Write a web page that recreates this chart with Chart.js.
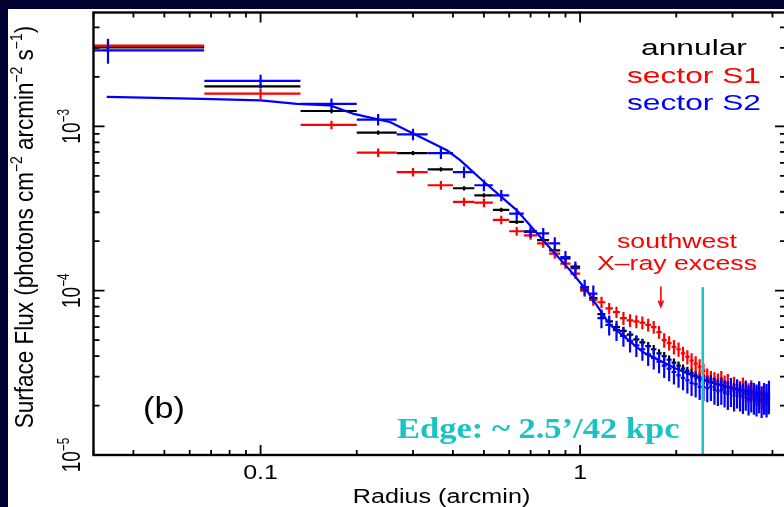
<!DOCTYPE html>
<html>
<head>
<meta charset="utf-8">
<script src="https://cdn.jsdelivr.net/npm/chart.js"></script>
<style>
  html, body { margin: 0; padding: 0; background: #010132; overflow: hidden; }
  #wrap { position: absolute; left: 0; top: 0; width: 800px; height: 507px; }
</style>
</head>
<body>
<div id="wrap"><canvas id="chart-profile" width="800" height="507"></canvas></div>
<script>
// radial bins (arcmin), centre of each 4" annulus
var RADIUS = [0.0333, 0.1, 0.1667, 0.2333, 0.3, 0.3667, 0.4333, 0.5, 0.5667, 0.6333,
  0.7, 0.7667, 0.8333, 0.9, 0.9667, 1.0333, 1.1, 1.1667, 1.2333, 1.3,
  1.3667, 1.4333, 1.5, 1.5667, 1.6333, 1.7, 1.7667, 1.8333, 1.9, 1.9667,
  2.0333, 2.1, 2.1667, 2.2333, 2.3, 2.3667, 2.4333, 2.5, 2.5667, 2.6333,
  2.7, 2.7667, 2.8333, 2.9, 2.9667, 3.0333, 3.1, 3.1667, 3.2333, 3.3,
  3.3667, 3.4333, 3.5, 3.5667, 3.6333, 3.7, 3.7667, 3.8333, 3.9];
var BIN_HALF = 0.0333;

var ANNULAR_FLUX = [3.02e-3, 1.75e-3, 1.24e-3, 9.16e-4, 6.88e-4, 5.48e-4, 4.20e-4, 3.80e-4, 3.10e-4, 2.62e-4,
  2.30e-4, 2.03e-4, 1.76e-4, 1.57e-4, 1.40e-4, 1.02e-4, 9.0e-5, 7.2e-5, 6.5e-5, 6.0e-5,
  5.7e-5, 5.4e-5, 5.05e-5, 4.85e-5, 4.6e-5, 4.4e-5, 4.15e-5, 4.0e-5, 3.8e-5, 3.65e-5,
  3.5e-5, 3.35e-5, 3.25e-5, 3.15e-5, 3.05e-5, 2.98e-5, 2.9e-5, 2.85e-5, 2.8e-5, 2.75e-5,
  2.7e-5, 2.65e-5, 2.6e-5, 2.6e-5, 2.55e-5, 2.5e-5, 2.5e-5, 2.45e-5, 2.4e-5, 2.4e-5,
  2.35e-5, 2.35e-5, 2.3e-5, 2.3e-5, 2.25e-5, 2.25e-5, 2.2e-5, 2.2e-5, 2.2e-5];
var ANNULAR_ERR = [.04, .03, .03, .03, .03, .03, .03, .03, .03, .03,
  .03, .03, .04, .04, .04, .04, .04, .05, .05, .05,
  .05, .05, .05, .05, .06, .06, .06, .06, .06, .06,
  .06, .06, .06, .07, .07, .07, .07, .07, .07, .07,
  .07, .08, .08, .08, .08, .08, .08, .08, .08, .08,
  .09, .09, .09, .09, .09, .09, .09, .09, .09];

var S1_FLUX = [3.10e-3, 1.58e-3, 1.02e-3, 6.92e-4, 5.27e-4, 4.38e-4, 3.47e-4, 3.43e-4, 2.70e-4, 2.30e-4,
  2.17e-4, 1.94e-4, 1.68e-4, 1.46e-4, 1.27e-4, 1.0e-4, 8.8e-5, 8.5e-5, 7.8e-5, 7.4e-5,
  6.8e-5, 6.6e-5, 6.5e-5, 6.4e-5, 6.2e-5, 6.0e-5, 5.6e-5, 5.0e-5, 4.8e-5, 4.55e-5,
  4.4e-5, 4.15e-5, 3.95e-5, 3.75e-5, 3.6e-5, 3.45e-5, 3.25e-5, 3.0e-5, 2.9e-5, 2.85e-5,
  2.8e-5, 2.9e-5, 2.7e-5, 2.75e-5, 2.6e-5, 2.65e-5, 2.55e-5, 2.5e-5, 2.6e-5, 2.45e-5,
  2.4e-5, 2.5e-5, 2.35e-5, 2.3e-5, 2.4e-5, 2.25e-5, 2.2e-5, 2.1e-5, 2.2e-5];
var S1_ERR = [.10, .07, .06, .06, .06, .06, .06, .06, .06, .06,
  .06, .06, .07, .07, .07, .08, .08, .08, .08, .08,
  .09, .09, .09, .09, .09, .09, .09, .10, .10, .10,
  .10, .10, .10, .11, .11, .11, .11, .12, .12, .12,
  .12, .12, .13, .13, .13, .13, .13, .13, .14, .14,
  .14, .14, .14, .14, .15, .15, .15, .16, .16];

var S2_FLUX = [2.90e-3, 1.89e-3, 1.37e-3, 1.10e-3, 8.94e-4, 6.88e-4, 5.27e-4, 4.38e-4, 3.80e-4, 2.94e-4,
  2.28e-4, 2.23e-4, 1.94e-4, 1.6e-4, 1.37e-4, 1.05e-4, 9.6e-5, 6.8e-5, 6.2e-5, 5.75e-5,
  5.3e-5, 4.95e-5, 4.65e-5, 4.4e-5, 4.1e-5, 3.9e-5, 3.7e-5, 3.5e-5, 3.35e-5, 3.2e-5,
  3.05e-5, 2.95e-5, 2.85e-5, 2.75e-5, 2.7e-5, 2.6e-5, 2.6e-5, 2.55e-5, 2.6e-5, 2.5e-5,
  2.45e-5, 2.5e-5, 2.4e-5, 2.35e-5, 2.45e-5, 2.3e-5, 2.4e-5, 2.3e-5, 2.25e-5, 2.35e-5,
  2.2e-5, 2.3e-5, 2.25e-5, 2.2e-5, 2.3e-5, 2.15e-5, 2.25e-5, 2.2e-5, 2.3e-5];
var S2_ERR = [.17, .09, .08, .08, .08, .08, .08, .08, .08, .08,
  .08, .08, .09, .09, .10, .11, .12, .13, .14, .14,
  .14, .15, .15, .15, .15, .15, .15, .16, .16, .16,
  .16, .16, .17, .17, .17, .17, .18, .18, .18, .19,
  .19, .19, .19, .20, .20, .20, .20, .20, .21, .21,
  .21, .21, .22, .22, .22, .22, .22, .23, .23];

// beta-model curve
var MODEL_RADIUS = [0.033, 0.066, 0.1, 0.13, 0.165, 0.196, 0.255, 0.383, 0.422, 0.5, 0.634,
  0.806, 0.93, 1.05, 1.24, 1.58, 2.0, 2.5, 3.0, 3.5, 3.93];
var MODEL_FLUX = [1.51e-3, 1.47e-3, 1.44e-3, 1.37e-3, 1.34e-3, 1.19e-3, 1.06e-3, 7.15e-4, 6.2e-4, 4.6e-4, 3.08e-4,
  1.81e-4, 1.33e-4, 1.0e-4, 6.2e-5, 4.2e-5, 3.35e-5, 2.8e-5, 2.55e-5, 2.4e-5, 2.3e-5];

var X_TICK_VALUES = [0.1, 1];
var X_TICK_LABELS = ['0.1', '1'];
var Y_TICK_VALUES = [1e-5, 1e-4, 1e-3];
var Y_TICK_EXP = ['\u22125', '\u22124', '\u22123'];

var LEGEND_LABELS = ['annular', 'sector S1', 'sector S2'];
var LEGEND_COLORS = ['#000000', '#ff0000', '#0000ff'];

var EDGE_X = 2.42, EDGE_TOP = 1.05e-4;
var ARROW_X = 1.79, ARROW_FROM = 1.06e-4, ARROW_TO = 8.0e-5;

var SANS = '"Liberation Sans", Arial, Helvetica, sans-serif';
var CYAN = '#1cc3c3';

function toPoints(xs, ys) {
    var pts = [];
    for (var i = 0; i < xs.length; i++) pts.push({ x: xs[i], y: ys[i] });
    return pts;
}

// text with superscripts, optionally rotated / stretched
function drawRich(ctx, parts, x, y, o) {
    var supSize = o.size * 0.62;
    var font = function (s) { return (o.weight || 'normal') + ' ' + s + 'px ' + (o.family || SANS); };
    ctx.save();
    ctx.translate(x, y);
    if (o.rotate) ctx.rotate(o.rotate);
    ctx.scale(o.sx || 1, o.sy || 1);
    ctx.fillStyle = o.color || '#000';
    ctx.textBaseline = 'alphabetic';
    ctx.textAlign = 'left';
    var w = 0;
    parts.forEach(function (p) {
        ctx.font = font(p[1] ? supSize : o.size);
        w += ctx.measureText(p[0]).width;
    });
    var cx = o.align === 'center' ? -w / 2 : 0;
    parts.forEach(function (p) {
        ctx.font = font(p[1] ? supSize : o.size);
        ctx.fillText(p[0], cx, p[1] ? -o.size * 0.42 : 0);
        cx += ctx.measureText(p[0]).width;
    });
    ctx.restore();
}

function isWholeTick(v) {
    var sig = v / Math.pow(10, Math.floor(Math.log10(v) + 1e-9));
    return Math.abs(sig - Math.round(sig)) < 1e-6 ? Math.round(sig) : 0;
}

var profilePlugin = {
    id: 'profile',
    beforeDraw: function (chart) {
        var c = chart.ctx;
        c.save();
        c.fillStyle = '#010132';
        c.fillRect(0, 0, chart.width, chart.height);
        c.fillStyle = '#ffffff';
        c.fillRect(8, 9, chart.width - 8, chart.height - 9);
        c.restore();
    },
    beforeDatasetsDraw: function (chart) {
        var c = chart.ctx, a = chart.chartArea;
        var xs = chart.scales.x, ys = chart.scales.y;
        c.save();
        c.beginPath();
        c.rect(a.left, a.top, a.right - a.left, a.bottom - a.top);
        c.clip();
        c.lineWidth = 2.2;
        chart.data.datasets.forEach(function (ds) {
            if (!ds.yErr) return;
            c.strokeStyle = ds.errColor;
            ds.data.forEach(function (p, i) {
                var px = xs.getPixelForValue(p.x), py = ys.getPixelForValue(p.y);
                var xl = xs.getPixelForValue(Math.max(p.x - BIN_HALF, xs.min * 0.5));
                var xr = xs.getPixelForValue(p.x + BIN_HALF);
                var e = ds.yErr[i];
                c.beginPath();
                c.moveTo(xl, py); c.lineTo(xr, py);
                c.moveTo(px, ys.getPixelForValue(p.y * (1 + e)));
                c.lineTo(px, ys.getPixelForValue(p.y * (1 - e)));
                c.stroke();
            });
        });
        c.restore();
    },
    afterDatasetsDraw: function (chart) {
        var c = chart.ctx, a = chart.chartArea;
        var xs = chart.scales.x, ys = chart.scales.y;
        c.save();
        // cyan edge marker
        c.strokeStyle = CYAN;
        c.lineWidth = 2.5;
        var ex = xs.getPixelForValue(EDGE_X);
        c.beginPath();
        c.moveTo(ex, ys.getPixelForValue(EDGE_TOP));
        c.lineTo(ex, a.bottom);
        c.stroke();
        // red arrow
        var ax = xs.getPixelForValue(ARROW_X), ay1 = ys.getPixelForValue(ARROW_FROM), ay2 = ys.getPixelForValue(ARROW_TO);
        c.strokeStyle = '#ff0000';
        c.lineWidth = 1.6;
        c.beginPath();
        c.moveTo(ax, ay1); c.lineTo(ax, ay2);
        c.moveTo(ax - 2.5, ay2 - 6); c.lineTo(ax, ay2); c.lineTo(ax + 2.5, ay2 - 6);
        c.stroke();
        // frame
        c.strokeStyle = '#000';
        c.lineWidth = 2.4;
        c.strokeRect(a.left, a.top, a.right - a.left, a.bottom - a.top);
        // inward ticks on all four sides
        c.lineWidth = 1.8;
        c.beginPath();
        xs.ticks.forEach(function (t) {
            var s = isWholeTick(t.value);
            if (!s) return;
            var px = xs.getPixelForValue(t.value), len = s === 1 ? 10 : 5;
            c.moveTo(px, a.bottom); c.lineTo(px, a.bottom - len);
            c.moveTo(px, a.top); c.lineTo(px, a.top + len);
        });
        ys.ticks.forEach(function (t) {
            var s = isWholeTick(t.value);
            if (!s) return;
            var py = ys.getPixelForValue(t.value), len = s === 1 ? 11 : 6;
            c.moveTo(a.left, py); c.lineTo(a.left + len, py);
            c.moveTo(a.right, py); c.lineTo(a.right - len, py);
        });
        c.stroke();
        c.restore();

        // tick labels
        X_TICK_VALUES.forEach(function (v, i) {
            drawRich(c, [[X_TICK_LABELS[i], false]], xs.getPixelForValue(v), 479,
                { size: 20, sx: 1.25, align: 'center' });
        });
        Y_TICK_VALUES.forEach(function (v, i) {
            drawRich(c, [['10', false], [Y_TICK_EXP[i], true]], 80, ys.getPixelForValue(v),
                { size: 19, sy: 1.35, rotate: -Math.PI / 2, align: 'center' });
        });
        // axis titles
        drawRich(c, [['Radius (arcmin)', false]], 441.5, 503, { size: 19.5, sx: 1.29, align: 'center' });
        drawRich(c, [['Surface Flux (photons cm', false], ['\u22122', true], [' arcmin', false],
            ['\u22122', true], [' s', false], ['\u22121', true], [')', false]], 33, 227,
            { size: 21, sx: 1.07, sy: 1.2, rotate: -Math.PI / 2, align: 'center' });
        // legend
        LEGEND_LABELS.forEach(function (t, i) {
            drawRich(c, [[t, false]], 694, 55 + i * 27.5, { size: 22.5, sx: 1.41, align: 'center', color: LEGEND_COLORS[i] });
        });
        // annotations
        drawRich(c, [['southwest', false]], 677, 248, { size: 20.5, sx: 1.3, align: 'center', color: '#ff0000' });
        drawRich(c, [['X\u2013ray excess', false]], 677, 270, { size: 20.5, sx: 1.3, align: 'center', color: '#ff0000' });
        drawRich(c, [['(b)', false]], 143, 418, { size: 29, sx: 1.18 });
        drawRich(c, [['Edge: ~ 2.5\u2019/42 kpc', false]], 397, 438,
            { size: 29, sx: 1.19, weight: 'bold', family: '"Liberation Serif", "Times New Roman", serif', color: CYAN });
    }
};

var ctx = document.getElementById('chart-profile').getContext('2d');
var chart = new Chart(ctx, {
    type: 'scatter',
    data: {
        datasets: [{
            label: 'model',
            data: toPoints(MODEL_RADIUS, MODEL_FLUX),
            showLine: true,
            borderColor: '#0000ff',
            borderWidth: 2.2,
            pointRadius: 0,
            tension: 0
        }, {
            label: LEGEND_LABELS[0],
            data: toPoints(RADIUS, ANNULAR_FLUX),
            pointRadius: 0,
            yErr: ANNULAR_ERR,
            errColor: '#000000'
        }, {
            label: LEGEND_LABELS[1],
            data: toPoints(RADIUS, S1_FLUX),
            pointRadius: 0,
            yErr: S1_ERR,
            errColor: '#ff0000'
        }, {
            label: LEGEND_LABELS[2],
            data: toPoints(RADIUS, S2_FLUX),
            pointRadius: 0,
            yErr: S2_ERR,
            errColor: '#0000ff'
        }]
    },
    options: {
        responsive: false,
        animation: false,
        events: [],
        layout: { padding: { left: 93.5, top: 12.5, right: 14, bottom: 52 } },
        plugins: { legend: { display: false }, tooltip: { enabled: false } },
        scales: {
            x: {
                type: 'logarithmic', min: 0.030, max: 4.41,
                grid: { display: false, drawTicks: false }, border: { display: false },
                ticks: { display: false, autoSkip: false },
                afterFit: function (s) { s.height = 0; }
            },
            y: {
                type: 'logarithmic', min: 1e-5, max: 4.93e-3,
                grid: { display: false, drawTicks: false }, border: { display: false },
                ticks: { display: false, autoSkip: false },
                afterFit: function (s) { s.width = 0; }
            }
        }
    },
    plugins: [profilePlugin]
});
</script>
</body>
</html>
